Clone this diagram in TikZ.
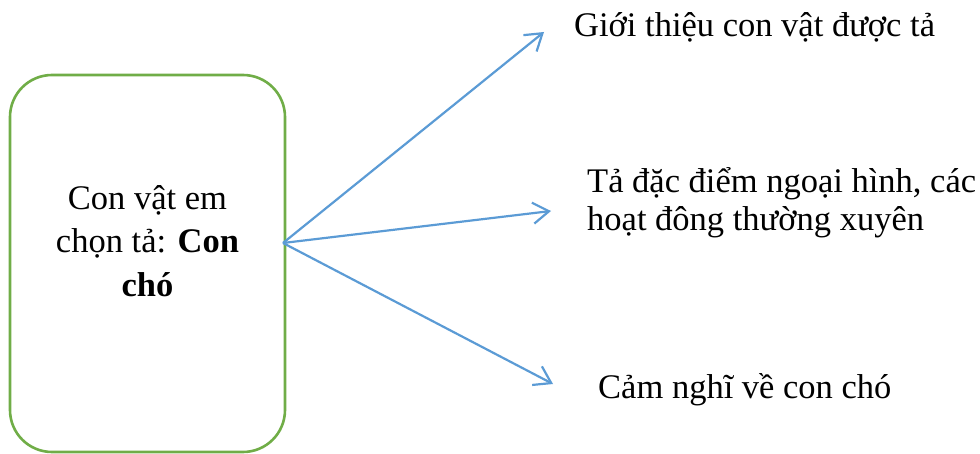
\documentclass[tikz,border=0pt]{standalone}
\usepackage{fontspec}
\setmainfont{Liberation Serif}
\usetikzlibrary{arrows.meta}
\definecolor{boxgreen}{HTML}{70AD47}
\definecolor{arrowblue}{HTML}{5B9BD5}
\begin{document}
\begin{tikzpicture}[x=1pt,y=1pt,
  mainbox/.style={draw=boxgreen, line width=2.6pt, rounded corners=42pt, minimum width=275pt, minimum height=377pt, inner sep=0pt},
  lbl/.style={inner sep=0pt, font=\fontsize{34.5}{38}\selectfont},
  conn/.style={draw=arrowblue, line width=2.2pt, -{Straight Barb[length=16pt,width=21pt]}}]
\useasboundingbox (0,0) rectangle (980,453);
\node[mainbox] (box) at (147.5,189.5) {};
\node[lbl, align=center, font=\fontsize{34.5}{43.5}\selectfont, anchor=base] (boxtext) at (147.5,157) {Con vật em\\chọn tả: \textbf{Con}\\\textbf{chó}};
\coordinate (src) at (283,210);
\node[lbl, anchor=base west] (t1) at (574,416) {Giới thiệu con vật được tả};
\node[lbl, anchor=base west, align=left] (t2) at (587,222) {Tả đặc điểm ngoại hình, các\\hoạt đông thường xuyên};
\node[lbl, anchor=base west] (t3) at (598,55) {Cảm nghĩ về con chó};
\coordinate (e1) at (544,421);
\coordinate (e2) at (551,242);
\coordinate (e3) at (553,69);
\draw[conn] (src) -- (e1);
\draw[conn] (src) -- (e2);
\draw[conn] (src) -- (e3);
\end{tikzpicture}
\end{document}
